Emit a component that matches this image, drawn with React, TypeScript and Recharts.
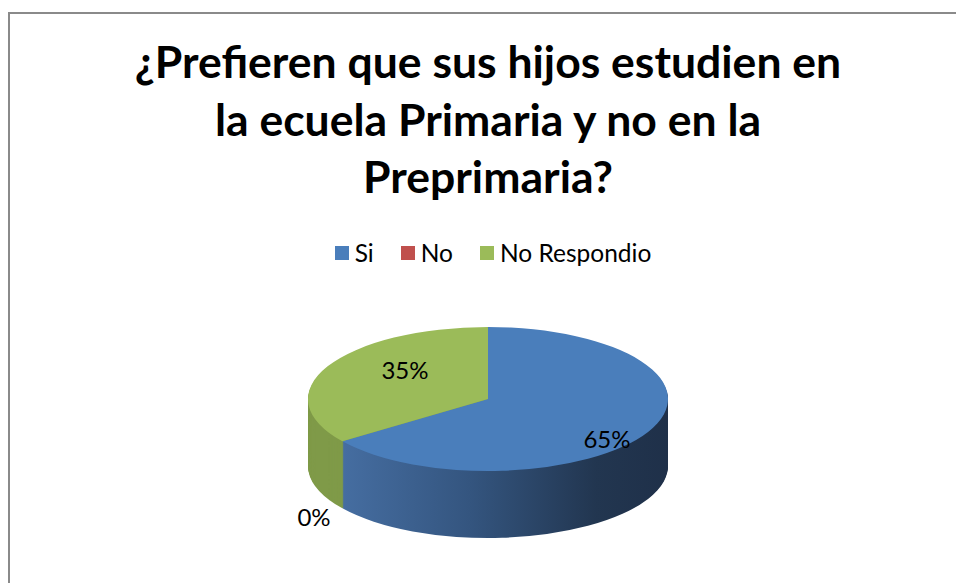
import { PieChart, Pie, Cell, Legend } from "recharts"

const categories = ["Si", "No", "No Respondio"]
const values = [65, 0, 35]
const topColors = ["#4a7ebb", "#c0504d", "#9bbb59"]
const sideColors = ["url(#sideBlue)", "#8e3b39", "#7f9a48"]
const titleLines = ["¿Prefieren que sus hijos estudien en", "la ecuela Primaria y no en la", "Preprimaria?"]

const data = categories.map((name, i) => ({ name, value: values[i] }))

// pie geometry (screen px)
const CX = 488
const CY = 399
const R = 180
const RY = 72
const DEPTH = 67
const K = RY / R

// label placement as fractions of the radius (x) and of the squashed radius (y), per slice
const labelPlace = [
  [0.742, 1.2],
  [1.195, 2.78],
  [0.518, 0.9],
]

const layers = Array.from({ length: DEPTH }, (_, i) => DEPTH - i)

const renderLabel = (p: any) => {
  const { cx, cy, midAngle, index, percent } = p
  const a = (-midAngle * Math.PI) / 180
  const x = cx + R * labelPlace[index][0] * Math.cos(a)
  const y = cy + RY * labelPlace[index][1] * Math.sin(a)
  return (
    <text
      x={x}
      y={y}
      textAnchor="middle"
      dominantBaseline="central"
      fill="#000"
      style={{ fontFamily: "Lato", fontSize: 24 }}
    >
      {`${Math.round(percent * 100)}%`}
    </text>
  )
}

const LegendContent = () => (
  <div style={{ display: "flex", justifyContent: "center", fontFamily: "Lato", fontSize: 24.5, color: "#000", lineHeight: "30px" }}>
    {categories.map((c, i) => (
      <div key={c} style={{ display: "flex", alignItems: "center", marginRight: i < categories.length - 1 ? 27 : 0 }}>
        <span style={{ width: 14, height: 14, background: topColors[i], marginRight: 6, display: "inline-block" }} />
        <span>{c}</span>
      </div>
    ))}
  </div>
)

export default function App() {
  return (
    <div style={{ position: "fixed", left: 0, top: 0, width: 956, height: 583, overflow: "hidden", background: "#fff" }}>
      <style>{`.recharts-pie { transform: scaleY(${K}); transform-origin: ${CX}px ${CY}px; }`}</style>
      <div style={{ position: "absolute", left: 8, top: 12, width: 1000, height: 620, border: "2px solid #8a8a8a", boxSizing: "border-box" }} />
      <div
        style={{
          position: "absolute",
          left: 0,
          top: 32,
          width: 976,
          textAlign: "center",
          fontFamily: "Lato",
          fontWeight: 700,
          fontSize: 44.5,
          lineHeight: "57.5px",
          color: "#000",
        }}
      >
        {titleLines.map((t) => (
          <div key={t}>{t}</div>
        ))}
      </div>
      <div style={{ position: "absolute", left: 0, top: 0 }}>
        <PieChart width={956} height={583} margin={{ top: 0, right: 0, bottom: 0, left: 0 }}>
          <defs>
            <linearGradient id="sideBlue" gradientUnits="userSpaceOnUse" x1={CX - R} y1={0} x2={CX + R} y2={0}>
              <stop offset="0%" stopColor="#4a74aa" />
              <stop offset="45%" stopColor="#34557f" />
              <stop offset="80%" stopColor="#223650" />
              <stop offset="100%" stopColor="#1f3049" />
            </linearGradient>
          </defs>
          <Legend
            verticalAlign="middle"
            align="center"
            layout="horizontal"
            wrapperStyle={{ top: 238, left: 0, width: 986 }}
            content={<LegendContent />}
          />
          {layers.map((d) => (
            <Pie
              key={d}
              data={data}
              dataKey="value"
              nameKey="name"
              cx={CX}
              cy={CY + d / K}
              outerRadius={R}
              startAngle={90}
              endAngle={-270}
              stroke="none"
              legendType="none"
              label={false}
              labelLine={false}
              isAnimationActive={false}
            >
              {data.map((e, i) => (
                <Cell key={e.name} fill={sideColors[i]} />
              ))}
            </Pie>
          ))}
          <Pie
            data={data}
            dataKey="value"
            nameKey="name"
            cx={CX}
            cy={CY}
            outerRadius={R}
            startAngle={90}
            endAngle={-270}
            stroke="none"
            legendType="square"
            label={renderLabel}
            labelLine={false}
            isAnimationActive={false}
          >
            {data.map((e, i) => (
              <Cell key={e.name} fill={topColors[i]} />
            ))}
          </Pie>
        </PieChart>
      </div>
    </div>
  )
}
